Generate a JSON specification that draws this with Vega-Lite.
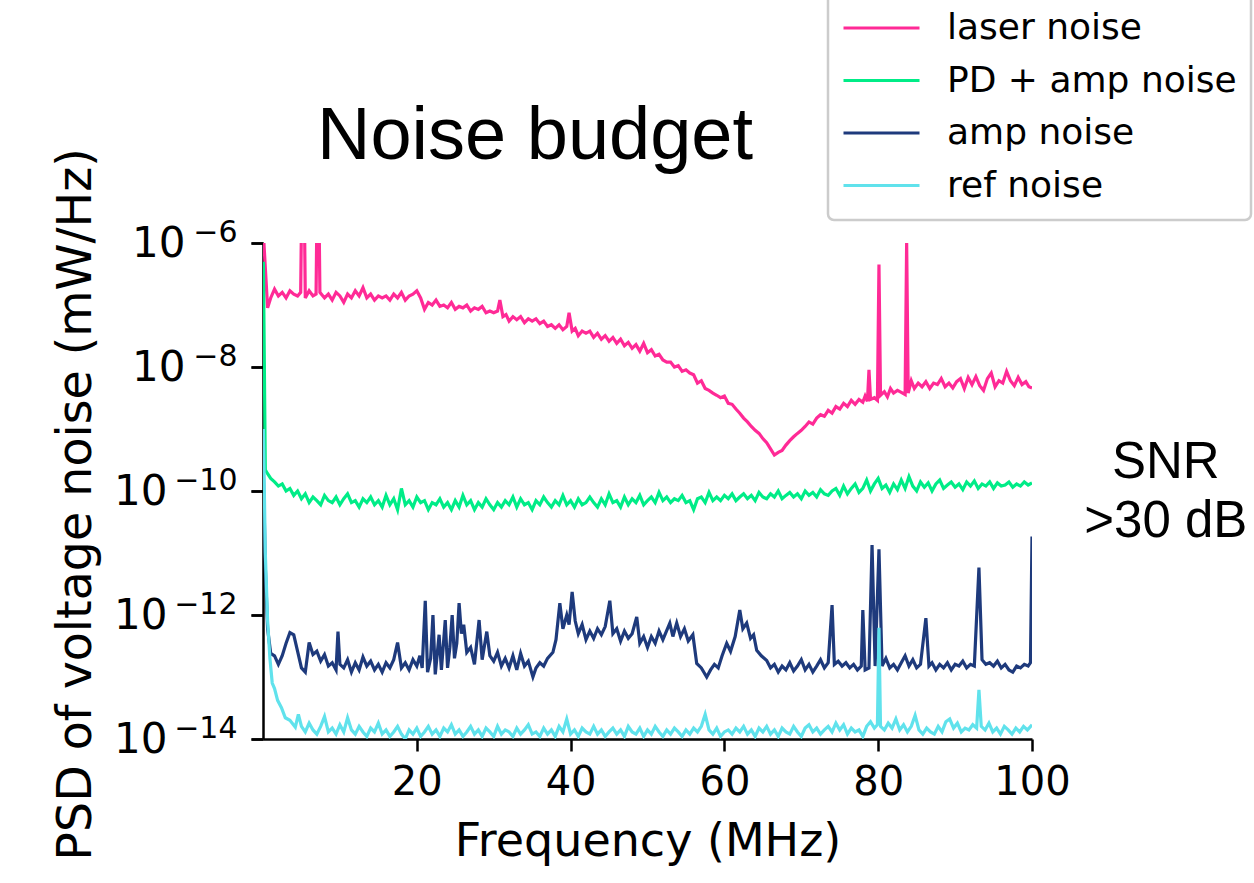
{
"$schema":"https://vega.github.io/schema/vega-lite/v6.json",
"width":769,"height":496,
"autosize":"none",
"padding":{"left":263,"top":243,"right":222,"bottom":144},
"background":"white",
"config":{"view":{"stroke":null},"font":"DejaVu Sans"},
"title":{"text":"Noise budget","anchor":"start","frame":"group","dx":54,"offset":-240,"baseline":"alphabetic","fontSize":74,"font":"Liberation Sans","fontWeight":"normal","color":"black"},
"resolve":{"axis":{"y":"independent"}},
"datasets":{
"laser":[{"f":0.1,"v":1.1e-6},{"f":0.3,"v":4e-7},{"f":0.6,"v":9e-8},{"f":1.0,"v":1.3e-7},{"f":1.5,"v":1.8e-7},{"f":2.0,"v":1.4e-7},{"f":2.5,"v":1.6e-7},{"f":3.0,"v":1.3e-7},{"f":3.5,"v":1.7e-7},{"f":4.0,"v":1.5e-7},{"f":4.5,"v":1.4e-7},{"f":4.9,"v":1.6e-7},{"f":5.0,"v":2e-6},{"f":5.4,"v":2e-6},{"f":5.5,"v":1.3e-7},{"f":6.0,"v":1.7e-7},{"f":6.5,"v":1.4e-7},{"f":6.9,"v":1.5e-7},{"f":7.0,"v":2e-6},{"f":7.3,"v":2e-6},{"f":7.4,"v":1.6e-7},{"f":8.0,"v":1.3e-7},{"f":8.5,"v":1.5e-7},{"f":9.0,"v":1.2e-7},{"f":9.5,"v":1.6e-7},{"f":10.0,"v":1.4e-7},{"f":10.5,"v":1.1e-7},{"f":11.0,"v":1.5e-7},{"f":11.5,"v":1.3e-7},{"f":12.0,"v":1.7e-7},{"f":12.5,"v":1.4e-7},{"f":13.0,"v":1.9e-7},{"f":13.5,"v":1.3e-7},{"f":14.0,"v":1.5e-7},{"f":14.5,"v":1.2e-7},{"f":15.0,"v":1.4e-7},{"f":15.5,"v":1.3e-7},{"f":16.0,"v":1.4e-7},{"f":16.5,"v":1.2e-7},{"f":17.0,"v":1.5e-7},{"f":17.5,"v":1.3e-7},{"f":18.0,"v":1.6e-7},{"f":18.5,"v":1.2e-7},{"f":19.0,"v":1.4e-7},{"f":19.5,"v":1.5e-7},{"f":20.0,"v":1.7e-7},{"f":20.5,"v":1.3e-7},{"f":21.0,"v":8.5e-8},{"f":21.5,"v":1.1e-7},{"f":22.0,"v":1.0e-7},{"f":22.5,"v":1.2e-7},{"f":23.0,"v":9.5e-8},{"f":23.5,"v":1.0e-7},{"f":24.0,"v":9e-8},{"f":24.5,"v":1.1e-7},{"f":25.0,"v":8.5e-8},{"f":25.5,"v":9.5e-8},{"f":26.0,"v":9e-8},{"f":26.5,"v":1.0e-7},{"f":27.0,"v":8e-8},{"f":27.5,"v":9e-8},{"f":28.0,"v":8.5e-8},{"f":28.5,"v":9.5e-8},{"f":29.0,"v":7.5e-8},{"f":29.5,"v":8e-8},{"f":30.0,"v":7.5e-8},{"f":30.5,"v":8e-8},{"f":30.8,"v":1.2e-7},{"f":31.2,"v":6.5e-8},{"f":31.6,"v":7e-8},{"f":32.0,"v":5.5e-8},{"f":32.5,"v":6.5e-8},{"f":33.0,"v":5.8e-8},{"f":33.5,"v":6.5e-8},{"f":34.0,"v":5.2e-8},{"f":34.5,"v":6e-8},{"f":35.0,"v":5.5e-8},{"f":35.5,"v":6e-8},{"f":36.0,"v":5e-8},{"f":36.5,"v":5.5e-8},{"f":37.0,"v":4.5e-8},{"f":37.5,"v":4.8e-8},{"f":38.0,"v":4.2e-8},{"f":38.5,"v":4.8e-8},{"f":39.0,"v":4e-8},{"f":39.5,"v":4.5e-8},{"f":39.8,"v":7.5e-8},{"f":40.2,"v":3.8e-8},{"f":40.6,"v":4.2e-8},{"f":41.0,"v":3.2e-8},{"f":41.5,"v":3.8e-8},{"f":42.0,"v":3.5e-8},{"f":42.5,"v":3.8e-8},{"f":43.0,"v":3e-8},{"f":43.5,"v":3.5e-8},{"f":44.0,"v":2.8e-8},{"f":44.5,"v":3.2e-8},{"f":45.0,"v":2.6e-8},{"f":45.5,"v":3e-8},{"f":46.0,"v":2.4e-8},{"f":46.5,"v":2.8e-8},{"f":47.0,"v":2.2e-8},{"f":47.5,"v":2.5e-8},{"f":48.0,"v":2.0e-8},{"f":48.5,"v":2.3e-8},{"f":49.0,"v":1.8e-8},{"f":49.5,"v":2.4e-8},{"f":50.0,"v":1.7e-8},{"f":50.5,"v":1.9e-8},{"f":51.0,"v":1.5e-8},{"f":51.5,"v":1.6e-8},{"f":52.0,"v":1.3e-8},{"f":52.5,"v":1.2e-8},{"f":53.0,"v":1.2e-8},{"f":53.5,"v":1.0e-8},{"f":54.0,"v":1.05e-8},{"f":54.5,"v":8.5e-9},{"f":55.0,"v":9e-9},{"f":55.5,"v":8e-9},{"f":56.0,"v":7.5e-9},{"f":56.5,"v":5.5e-9},{"f":57.0,"v":6e-9},{"f":57.5,"v":4.5e-9},{"f":58.0,"v":4.2e-9},{"f":58.5,"v":3.8e-9},{"f":59.0,"v":3.5e-9},{"f":59.5,"v":3.2e-9},{"f":60.0,"v":3.4e-9},{"f":60.5,"v":2.6e-9},{"f":61.0,"v":2.5e-9},{"f":61.5,"v":2.1e-9},{"f":62.0,"v":1.8e-9},{"f":62.5,"v":1.5e-9},{"f":63.0,"v":1.3e-9},{"f":63.5,"v":1.1e-9},{"f":64.0,"v":9.5e-10},{"f":64.5,"v":8.5e-10},{"f":65.0,"v":7e-10},{"f":65.5,"v":6e-10},{"f":66.0,"v":4.8e-10},{"f":66.5,"v":3.8e-10},{"f":67.0,"v":4.2e-10},{"f":67.5,"v":4.5e-10},{"f":68.0,"v":5.5e-10},{"f":68.5,"v":6.5e-10},{"f":69.0,"v":7.5e-10},{"f":69.5,"v":8.5e-10},{"f":70.0,"v":9.5e-10},{"f":70.5,"v":1.1e-9},{"f":71.0,"v":1.3e-9},{"f":71.5,"v":1.2e-9},{"f":72.0,"v":1.5e-9},{"f":72.5,"v":1.7e-9},{"f":73.0,"v":1.6e-9},{"f":73.5,"v":2.0e-9},{"f":74.0,"v":1.8e-9},{"f":74.5,"v":2.3e-9},{"f":75.0,"v":2.1e-9},{"f":75.5,"v":2.6e-9},{"f":76.0,"v":2.3e-9},{"f":76.5,"v":2.9e-9},{"f":77.0,"v":2.5e-9},{"f":77.5,"v":3.0e-9},{"f":78.0,"v":2.7e-9},{"f":78.3,"v":3.4e-9},{"f":78.6,"v":2.8e-9},{"f":78.8,"v":9e-9},{"f":79.0,"v":3e-9},{"f":79.5,"v":3.2e-9},{"f":79.9,"v":2.9e-9},{"f":80.1,"v":4.5e-7},{"f":80.3,"v":3.5e-9},{"f":80.8,"v":4e-9},{"f":81.2,"v":3.3e-9},{"f":81.6,"v":4.5e-9},{"f":82.0,"v":3.8e-9},{"f":82.5,"v":4.2e-9},{"f":83.0,"v":3.9e-9},{"f":83.5,"v":3.6e-9},{"f":83.7,"v":1e-6},{"f":83.9,"v":3.8e-9},{"f":84.3,"v":6e-9},{"f":84.7,"v":4.5e-9},{"f":85.2,"v":5.5e-9},{"f":85.7,"v":4.8e-9},{"f":86.2,"v":5.8e-9},{"f":86.7,"v":4.5e-9},{"f":87.2,"v":5.5e-9},{"f":87.7,"v":5.2e-9},{"f":88.2,"v":6.5e-9},{"f":88.7,"v":4.8e-9},{"f":89.2,"v":5.5e-9},{"f":89.7,"v":4.6e-9},{"f":90.2,"v":5.8e-9},{"f":90.7,"v":6.5e-9},{"f":91.2,"v":4.5e-9},{"f":91.7,"v":6.8e-9},{"f":92.2,"v":5.2e-9},{"f":92.7,"v":7e-9},{"f":93.2,"v":5e-9},{"f":93.7,"v":4.2e-9},{"f":94.2,"v":6.5e-9},{"f":94.7,"v":8e-9},{"f":95.2,"v":4.8e-9},{"f":95.7,"v":6e-9},{"f":96.2,"v":5.5e-9},{"f":96.7,"v":8.5e-9},{"f":97.2,"v":6e-9},{"f":97.7,"v":5e-9},{"f":98.2,"v":6.8e-9},{"f":98.7,"v":5.2e-9},{"f":99.2,"v":5.8e-9},{"f":99.6,"v":4.8e-9},{"f":100,"v":4.6e-9}],
"pd":[{"f":0.05,"v":5e-7},{"f":0.3,"v":2.2e-10},{"f":0.6,"v":1.9e-10},{"f":1.0,"v":1.6e-10},{"f":1.5,"v":1.4e-10},{"f":2.0,"v":1.2e-10},{"f":2.5,"v":1.3e-10},{"f":3.0,"v":1.0e-10},{"f":3.5,"v":1.1e-10},{"f":4.0,"v":8.5e-11},{"f":4.5,"v":1.0e-10},{"f":5.0,"v":7.5e-11},{"f":5.5,"v":9e-11},{"f":6.0,"v":6.5e-11},{"f":6.5,"v":8e-11},{"f":7.0,"v":7e-11},{"f":7.5,"v":6e-11},{"f":8.0,"v":8.5e-11},{"f":8.5,"v":7e-11},{"f":9.0,"v":6.5e-11},{"f":9.5,"v":8e-11},{"f":10.0,"v":6e-11},{"f":10.5,"v":7.5e-11},{"f":11.0,"v":9e-11},{"f":11.5,"v":6.5e-11},{"f":12.0,"v":7e-11},{"f":12.5,"v":5.5e-11},{"f":13.0,"v":7.5e-11},{"f":13.5,"v":6.5e-11},{"f":14.0,"v":8e-11},{"f":14.5,"v":6e-11},{"f":15.0,"v":7e-11},{"f":15.5,"v":5.5e-11},{"f":16.0,"v":8.5e-11},{"f":16.5,"v":6e-11},{"f":17.0,"v":7.5e-11},{"f":17.5,"v":5e-11},{"f":18.0,"v":1.1e-10},{"f":18.5,"v":6e-11},{"f":19.0,"v":7e-11},{"f":19.5,"v":5.5e-11},{"f":20.0,"v":8e-11},{"f":20.5,"v":6.5e-11},{"f":21.0,"v":7e-11},{"f":21.5,"v":5e-11},{"f":22.0,"v":6.5e-11},{"f":22.5,"v":6e-11},{"f":23.0,"v":7.5e-11},{"f":23.5,"v":5.5e-11},{"f":24.0,"v":6.5e-11},{"f":24.5,"v":5e-11},{"f":25.0,"v":7e-11},{"f":25.5,"v":5.5e-11},{"f":26.0,"v":8.5e-11},{"f":26.5,"v":6e-11},{"f":27.0,"v":7e-11},{"f":27.5,"v":5e-11},{"f":28.0,"v":6.5e-11},{"f":28.5,"v":5.5e-11},{"f":29.0,"v":7.5e-11},{"f":29.5,"v":6e-11},{"f":30.0,"v":5e-11},{"f":30.5,"v":6.5e-11},{"f":31.0,"v":5.5e-11},{"f":31.5,"v":7e-11},{"f":32.0,"v":6e-11},{"f":32.5,"v":8e-11},{"f":33.0,"v":5.5e-11},{"f":33.5,"v":7.5e-11},{"f":34.0,"v":6e-11},{"f":34.5,"v":6.5e-11},{"f":35.0,"v":5e-11},{"f":35.5,"v":7e-11},{"f":36.0,"v":6e-11},{"f":36.5,"v":8e-11},{"f":37.0,"v":6.5e-11},{"f":37.5,"v":5.5e-11},{"f":38.0,"v":7e-11},{"f":38.5,"v":6e-11},{"f":39.0,"v":8.5e-11},{"f":39.5,"v":6e-11},{"f":40.0,"v":7e-11},{"f":40.5,"v":5.5e-11},{"f":41.0,"v":7.5e-11},{"f":41.5,"v":6e-11},{"f":42.0,"v":6.5e-11},{"f":42.5,"v":8e-11},{"f":43.0,"v":6.5e-11},{"f":43.5,"v":5.5e-11},{"f":44.0,"v":7.5e-11},{"f":44.5,"v":6e-11},{"f":45.0,"v":9e-11},{"f":45.5,"v":6.5e-11},{"f":46.0,"v":7e-11},{"f":46.5,"v":5.5e-11},{"f":47.0,"v":8e-11},{"f":47.5,"v":6e-11},{"f":48.0,"v":7.5e-11},{"f":48.5,"v":6.5e-11},{"f":49.0,"v":8.5e-11},{"f":49.5,"v":6e-11},{"f":50.0,"v":7e-11},{"f":50.5,"v":8e-11},{"f":51.0,"v":6.5e-11},{"f":51.5,"v":9.5e-11},{"f":52.0,"v":7e-11},{"f":52.5,"v":8e-11},{"f":53.0,"v":6.5e-11},{"f":53.5,"v":7.5e-11},{"f":54.0,"v":7e-11},{"f":54.5,"v":8.5e-11},{"f":55.0,"v":6.5e-11},{"f":55.5,"v":7e-11},{"f":56.0,"v":5e-11},{"f":56.5,"v":7.5e-11},{"f":57.0,"v":8e-11},{"f":57.5,"v":6.5e-11},{"f":58.0,"v":9.5e-11},{"f":58.5,"v":7e-11},{"f":59.0,"v":8e-11},{"f":59.5,"v":7e-11},{"f":60.0,"v":8.5e-11},{"f":60.5,"v":7.5e-11},{"f":61.0,"v":9e-11},{"f":61.5,"v":7e-11},{"f":62.0,"v":8e-11},{"f":62.5,"v":9e-11},{"f":63.0,"v":7.5e-11},{"f":63.5,"v":8.5e-11},{"f":64.0,"v":7e-11},{"f":64.5,"v":9.5e-11},{"f":65.0,"v":8e-11},{"f":65.5,"v":7.5e-11},{"f":66.0,"v":9e-11},{"f":66.5,"v":8e-11},{"f":67.0,"v":1.0e-10},{"f":67.5,"v":7.5e-11},{"f":68.0,"v":8.5e-11},{"f":68.5,"v":9.5e-11},{"f":69.0,"v":8e-11},{"f":69.5,"v":9e-11},{"f":70.0,"v":7.5e-11},{"f":70.5,"v":1.0e-10},{"f":71.0,"v":8.5e-11},{"f":71.5,"v":9.5e-11},{"f":72.0,"v":8e-11},{"f":72.5,"v":1.05e-10},{"f":73.0,"v":9e-11},{"f":73.5,"v":8.5e-11},{"f":74.0,"v":1.0e-10},{"f":74.5,"v":1.1e-10},{"f":75.0,"v":8.5e-11},{"f":75.5,"v":1.2e-10},{"f":76.0,"v":9e-11},{"f":76.5,"v":1.1e-10},{"f":77.0,"v":1.3e-10},{"f":77.5,"v":9.5e-11},{"f":78.0,"v":1.1e-10},{"f":78.5,"v":1.5e-10},{"f":79.0,"v":1.0e-10},{"f":79.5,"v":1.3e-10},{"f":80.0,"v":1.6e-10},{"f":80.5,"v":1.1e-10},{"f":81.0,"v":1.25e-10},{"f":81.5,"v":9.5e-11},{"f":82.0,"v":1.3e-10},{"f":82.5,"v":1.05e-10},{"f":83.0,"v":1.5e-10},{"f":83.5,"v":1.1e-10},{"f":84.0,"v":1.7e-10},{"f":84.5,"v":1.2e-10},{"f":85.0,"v":1.0e-10},{"f":85.5,"v":1.4e-10},{"f":86.0,"v":1.15e-10},{"f":86.5,"v":1.35e-10},{"f":87.0,"v":1.0e-10},{"f":87.5,"v":1.3e-10},{"f":88.0,"v":1.5e-10},{"f":88.5,"v":1.1e-10},{"f":89.0,"v":1.25e-10},{"f":89.5,"v":1.4e-10},{"f":90.0,"v":1.15e-10},{"f":90.5,"v":1.3e-10},{"f":91.0,"v":1.05e-10},{"f":91.5,"v":1.4e-10},{"f":92.0,"v":1.2e-10},{"f":92.5,"v":1.45e-10},{"f":93.0,"v":1.1e-10},{"f":93.5,"v":1.3e-10},{"f":94.0,"v":1.2e-10},{"f":94.5,"v":1.4e-10},{"f":95.0,"v":1.1e-10},{"f":95.5,"v":1.35e-10},{"f":96.0,"v":1.2e-10},{"f":96.5,"v":1.25e-10},{"f":97.0,"v":1.4e-10},{"f":97.5,"v":1.15e-10},{"f":98.0,"v":1.3e-10},{"f":98.5,"v":1.2e-10},{"f":99.0,"v":1.4e-10},{"f":99.5,"v":1.25e-10},{"f":100,"v":1.35e-10}],
"amp":[{"f":0.05,"v":2e-10},{"f":0.3,"v":6e-12},{"f":0.6,"v":6e-13},{"f":1.0,"v":2.4e-13},{"f":1.5,"v":2.2e-13},{"f":2.0,"v":1.6e-13},{"f":2.5,"v":2.2e-13},{"f":3.0,"v":3.5e-13},{"f":3.5,"v":5.2e-13},{"f":4.0,"v":4.8e-13},{"f":4.5,"v":2.6e-13},{"f":5.0,"v":1.4e-13},{"f":5.5,"v":1.2e-13},{"f":6.0,"v":3.6e-13},{"f":6.5,"v":2.3e-13},{"f":7.0,"v":2.6e-13},{"f":7.5,"v":1.8e-13},{"f":8.0,"v":2.3e-13},{"f":8.5,"v":1.5e-13},{"f":9.0,"v":1.7e-13},{"f":9.5,"v":1.3e-13},{"f":9.75,"v":5.4e-13},{"f":10.0,"v":1.6e-13},{"f":10.5,"v":1.4e-13},{"f":11.0,"v":1.9e-13},{"f":11.5,"v":1.2e-13},{"f":12.0,"v":1.7e-13},{"f":12.5,"v":1.3e-13},{"f":13.0,"v":2.1e-13},{"f":13.5,"v":1.5e-13},{"f":14.0,"v":1.8e-13},{"f":14.5,"v":1.3e-13},{"f":15.0,"v":1.6e-13},{"f":15.5,"v":1.2e-13},{"f":16.0,"v":1.7e-13},{"f":16.5,"v":1.4e-13},{"f":17.0,"v":1.9e-13},{"f":17.5,"v":3.6e-13},{"f":18.0,"v":1.4e-13},{"f":18.5,"v":1.7e-13},{"f":19.0,"v":1.3e-13},{"f":19.5,"v":1.9e-13},{"f":20.0,"v":1.5e-13},{"f":20.4,"v":2.2e-13},{"f":20.7,"v":1.4e-13},{"f":21.1,"v":1.7e-12},{"f":21.4,"v":1.2e-13},{"f":21.8,"v":2e-13},{"f":22.1,"v":1e-12},{"f":22.4,"v":1.1e-13},{"f":22.9,"v":4.8e-13},{"f":23.2,"v":1.3e-13},{"f":23.7,"v":8.3e-13},{"f":24.0,"v":1.4e-13},{"f":24.3,"v":3e-13},{"f":24.6,"v":1e-12},{"f":24.9,"v":2e-13},{"f":25.2,"v":3.5e-13},{"f":25.5,"v":1.55e-12},{"f":25.8,"v":5e-13},{"f":26.1,"v":7e-13},{"f":26.5,"v":2.5e-13},{"f":27.0,"v":3e-13},{"f":27.5,"v":1.6e-13},{"f":28.1,"v":8.3e-13},{"f":28.5,"v":1.9e-13},{"f":29.1,"v":5.4e-13},{"f":29.5,"v":2.2e-13},{"f":30.0,"v":1.8e-13},{"f":30.5,"v":2.5e-13},{"f":31.0,"v":1.5e-13},{"f":31.5,"v":2e-13},{"f":32.0,"v":1.4e-13},{"f":32.5,"v":2.2e-13},{"f":33.0,"v":1.3e-13},{"f":33.5,"v":2.4e-13},{"f":34.0,"v":1.5e-13},{"f":34.5,"v":1.8e-13},{"f":35.1,"v":1e-13},{"f":35.5,"v":1.4e-13},{"f":36.0,"v":1.7e-13},{"f":36.5,"v":1.5e-13},{"f":37.0,"v":2e-13},{"f":37.7,"v":2.5e-13},{"f":38.1,"v":4e-13},{"f":38.6,"v":1.55e-12},{"f":39.0,"v":6e-13},{"f":39.5,"v":1e-12},{"f":39.8,"v":7e-13},{"f":40.2,"v":2.35e-12},{"f":40.6,"v":8e-13},{"f":41.0,"v":5e-13},{"f":41.5,"v":7e-13},{"f":42.0,"v":4e-13},{"f":42.5,"v":5.5e-13},{"f":43.0,"v":4.2e-13},{"f":43.5,"v":6e-13},{"f":44.0,"v":4.8e-13},{"f":44.5,"v":6.5e-13},{"f":45.1,"v":1.7e-12},{"f":45.5,"v":5e-13},{"f":46.0,"v":6e-13},{"f":46.5,"v":3.8e-13},{"f":47.0,"v":5.5e-13},{"f":47.5,"v":4.2e-13},{"f":48.0,"v":5e-13},{"f":48.6,"v":9.3e-13},{"f":49.0,"v":3.5e-13},{"f":49.5,"v":4.5e-13},{"f":50.0,"v":3e-13},{"f":50.5,"v":4.5e-13},{"f":51.0,"v":3.5e-13},{"f":51.5,"v":5.5e-13},{"f":52.0,"v":4e-13},{"f":52.9,"v":7.4e-13},{"f":53.3,"v":4.5e-13},{"f":53.8,"v":7.4e-13},{"f":54.3,"v":4.5e-13},{"f":54.8,"v":6e-13},{"f":55.3,"v":3.8e-13},{"f":55.9,"v":4.8e-13},{"f":56.4,"v":1.65e-13},{"f":57.0,"v":1.4e-13},{"f":57.7,"v":1e-13},{"f":58.2,"v":1.3e-13},{"f":58.7,"v":1.6e-13},{"f":59.2,"v":1.4e-13},{"f":59.7,"v":2.2e-13},{"f":60.3,"v":3.5e-13},{"f":60.8,"v":2.6e-13},{"f":61.4,"v":4.5e-13},{"f":62.0,"v":1.2e-12},{"f":62.4,"v":6e-13},{"f":62.9,"v":7.4e-13},{"f":63.4,"v":4.2e-13},{"f":63.8,"v":4.8e-13},{"f":64.2,"v":2.7e-13},{"f":64.8,"v":2.2e-13},{"f":65.5,"v":1.85e-13},{"f":66.0,"v":1.4e-13},{"f":66.5,"v":1.6e-13},{"f":67.0,"v":1.2e-13},{"f":67.5,"v":1.5e-13},{"f":68.0,"v":1.3e-13},{"f":68.5,"v":1.7e-13},{"f":69.0,"v":1.25e-13},{"f":69.5,"v":1.5e-13},{"f":70.0,"v":1.9e-13},{"f":70.5,"v":1.3e-13},{"f":71.0,"v":1.6e-13},{"f":71.5,"v":1.2e-13},{"f":72.0,"v":1.5e-13},{"f":72.5,"v":1.9e-13},{"f":73.0,"v":1.4e-13},{"f":73.5,"v":1.7e-13},{"f":74.0,"v":1.45e-12},{"f":74.3,"v":1.6e-13},{"f":74.8,"v":1.8e-13},{"f":75.3,"v":1.5e-13},{"f":75.8,"v":1.7e-13},{"f":76.3,"v":1.4e-13},{"f":76.8,"v":1.6e-13},{"f":77.3,"v":1.3e-13},{"f":77.8,"v":1.5e-13},{"f":78.0,"v":1.2e-12},{"f":78.3,"v":1.3e-13},{"f":78.8,"v":1.4e-13},{"f":79.2,"v":1.35e-11},{"f":79.6,"v":1.5e-13},{"f":80.1,"v":1.15e-11},{"f":80.5,"v":1.5e-13},{"f":81.0,"v":2e-13},{"f":81.5,"v":1.4e-13},{"f":82.0,"v":1.6e-13},{"f":82.5,"v":1.3e-13},{"f":83.0,"v":1.7e-13},{"f":83.5,"v":2.2e-13},{"f":84.0,"v":1.5e-13},{"f":84.5,"v":1.9e-13},{"f":85.0,"v":1.4e-13},{"f":85.5,"v":1.6e-13},{"f":86.2,"v":8.9e-13},{"f":86.6,"v":1.5e-13},{"f":87.0,"v":1.7e-13},{"f":87.5,"v":1.3e-13},{"f":88.0,"v":1.6e-13},{"f":88.5,"v":1.4e-13},{"f":89.0,"v":1.7e-13},{"f":89.5,"v":1.3e-13},{"f":90.0,"v":1.6e-13},{"f":90.5,"v":1.5e-13},{"f":91.0,"v":1.8e-13},{"f":91.5,"v":1.4e-13},{"f":92.0,"v":1.6e-13},{"f":92.5,"v":1.5e-13},{"f":93.1,"v":5.8e-12},{"f":93.5,"v":1.9e-13},{"f":94.0,"v":1.6e-13},{"f":94.5,"v":1.7e-13},{"f":95.0,"v":1.5e-13},{"f":95.5,"v":1.8e-13},{"f":96.0,"v":1.4e-13},{"f":96.5,"v":1.6e-13},{"f":97.0,"v":1.3e-13},{"f":97.5,"v":1.2e-13},{"f":98.0,"v":1.5e-13},{"f":98.5,"v":1.4e-13},{"f":99.0,"v":1.6e-13},{"f":99.5,"v":1.5e-13},{"f":99.8,"v":1.7e-13},{"f":100,"v":1.85e-11}],
"ref":[{"f":0.05,"v":1e-9},{"f":0.3,"v":1e-11},{"f":0.6,"v":8e-13},{"f":0.9,"v":2e-13},{"f":1.2,"v":8e-14},{"f":1.5,"v":6.5e-14},{"f":1.9,"v":4.2e-14},{"f":2.4,"v":3.2e-14},{"f":2.9,"v":2.2e-14},{"f":3.5,"v":2e-14},{"f":4.2,"v":1.55e-14},{"f":4.6,"v":2.5e-14},{"f":5.0,"v":1.6e-14},{"f":5.5,"v":1.3e-14},{"f":6.0,"v":1.8e-14},{"f":6.5,"v":1.4e-14},{"f":7.0,"v":1.2e-14},{"f":7.5,"v":1.6e-14},{"f":8.0,"v":2.3e-14},{"f":8.5,"v":1.3e-14},{"f":9.0,"v":1.5e-14},{"f":9.5,"v":1.2e-14},{"f":10.0,"v":1.7e-14},{"f":10.5,"v":1.3e-14},{"f":11.0,"v":2.2e-14},{"f":11.5,"v":1.4e-14},{"f":12.0,"v":1.2e-14},{"f":12.5,"v":1.6e-14},{"f":13.0,"v":1.3e-14},{"f":13.5,"v":1.1e-14},{"f":14.0,"v":1.5e-14},{"f":14.5,"v":1.3e-14},{"f":15.0,"v":1.8e-14},{"f":15.5,"v":1.2e-14},{"f":16.0,"v":1.4e-14},{"f":16.5,"v":1.1e-14},{"f":17.0,"v":1.3e-14},{"f":17.5,"v":1.6e-14},{"f":18.0,"v":1.2e-14},{"f":18.5,"v":1.0e-14},{"f":19.0,"v":1.4e-14},{"f":19.5,"v":1.2e-14},{"f":20.0,"v":1.5e-14},{"f":20.5,"v":1.1e-14},{"f":21.0,"v":1.3e-14},{"f":21.5,"v":1.6e-14},{"f":22.0,"v":1.2e-14},{"f":22.5,"v":1.4e-14},{"f":23.0,"v":1.1e-14},{"f":23.5,"v":1.5e-14},{"f":24.0,"v":1.3e-14},{"f":24.5,"v":1.7e-14},{"f":25.0,"v":1.2e-14},{"f":25.5,"v":1.4e-14},{"f":26.0,"v":1.1e-14},{"f":26.5,"v":1.3e-14},{"f":27.0,"v":1.6e-14},{"f":27.5,"v":1.2e-14},{"f":28.0,"v":1.4e-14},{"f":28.5,"v":1.1e-14},{"f":29.0,"v":1.5e-14},{"f":29.5,"v":1.3e-14},{"f":30.0,"v":1.1e-14},{"f":30.5,"v":1.6e-14},{"f":31.0,"v":1.2e-14},{"f":31.5,"v":1.4e-14},{"f":32.0,"v":1.3e-14},{"f":32.5,"v":1.1e-14},{"f":33.0,"v":1.5e-14},{"f":33.5,"v":1.2e-14},{"f":34.0,"v":1.4e-14},{"f":34.5,"v":1.7e-14},{"f":35.0,"v":1.2e-14},{"f":35.5,"v":1.3e-14},{"f":36.0,"v":1.1e-14},{"f":36.5,"v":1.5e-14},{"f":37.0,"v":1.2e-14},{"f":37.5,"v":1.4e-14},{"f":38.0,"v":1.1e-14},{"f":38.5,"v":1.6e-14},{"f":39.0,"v":1.3e-14},{"f":39.5,"v":2.1e-14},{"f":40.0,"v":1.2e-14},{"f":40.5,"v":1.4e-14},{"f":41.0,"v":1.1e-14},{"f":41.5,"v":1.5e-14},{"f":42.0,"v":1.3e-14},{"f":42.5,"v":1.2e-14},{"f":43.0,"v":1.6e-14},{"f":43.5,"v":1.2e-14},{"f":44.0,"v":1.4e-14},{"f":44.5,"v":1.1e-14},{"f":45.0,"v":1.3e-14},{"f":45.5,"v":1.5e-14},{"f":46.0,"v":1.2e-14},{"f":46.5,"v":1.4e-14},{"f":47.0,"v":1.1e-14},{"f":47.5,"v":1.6e-14},{"f":48.0,"v":1.3e-14},{"f":48.5,"v":1.2e-14},{"f":49.0,"v":1.5e-14},{"f":49.5,"v":1.1e-14},{"f":50.0,"v":1.4e-14},{"f":50.5,"v":1.2e-14},{"f":51.0,"v":1.6e-14},{"f":51.5,"v":1.3e-14},{"f":52.0,"v":1.1e-14},{"f":52.5,"v":1.4e-14},{"f":53.0,"v":1.2e-14},{"f":53.5,"v":1.5e-14},{"f":54.0,"v":1.3e-14},{"f":54.5,"v":1.1e-14},{"f":55.0,"v":1.4e-14},{"f":55.5,"v":1.2e-14},{"f":56.0,"v":1.5e-14},{"f":56.5,"v":1.3e-14},{"f":57.0,"v":1.6e-14},{"f":57.5,"v":2.5e-14},{"f":58.0,"v":1.4e-14},{"f":58.5,"v":1.2e-14},{"f":59.0,"v":1.5e-14},{"f":59.5,"v":1.1e-14},{"f":60.0,"v":1.3e-14},{"f":60.5,"v":1.4e-14},{"f":61.0,"v":1.2e-14},{"f":61.5,"v":1.5e-14},{"f":62.0,"v":1.3e-14},{"f":62.5,"v":1.6e-14},{"f":63.0,"v":1.2e-14},{"f":63.5,"v":1.4e-14},{"f":64.0,"v":1.1e-14},{"f":64.5,"v":1.5e-14},{"f":65.0,"v":1.3e-14},{"f":65.5,"v":1.6e-14},{"f":66.0,"v":1.2e-14},{"f":66.5,"v":1.4e-14},{"f":67.0,"v":1.1e-14},{"f":67.5,"v":1.5e-14},{"f":68.0,"v":1.3e-14},{"f":68.5,"v":1.2e-14},{"f":69.0,"v":1.6e-14},{"f":69.5,"v":1.3e-14},{"f":70.0,"v":1.1e-14},{"f":70.5,"v":1.5e-14},{"f":71.0,"v":1.7e-14},{"f":71.5,"v":1.3e-14},{"f":72.0,"v":1.5e-14},{"f":72.5,"v":1.2e-14},{"f":73.0,"v":1.4e-14},{"f":73.5,"v":1.6e-14},{"f":74.0,"v":1.3e-14},{"f":74.5,"v":1.8e-14},{"f":75.0,"v":1.4e-14},{"f":75.5,"v":1.7e-14},{"f":76.0,"v":1.2e-14},{"f":76.5,"v":1.5e-14},{"f":77.0,"v":1.3e-14},{"f":77.5,"v":1.4e-14},{"f":78.0,"v":1.1e-14},{"f":78.5,"v":1.6e-14},{"f":79.0,"v":1.9e-14},{"f":79.5,"v":1.5e-14},{"f":79.9,"v":1.7e-14},{"f":80.1,"v":6.2e-13},{"f":80.3,"v":1.6e-14},{"f":80.8,"v":1.4e-14},{"f":81.3,"v":1.8e-14},{"f":81.8,"v":1.5e-14},{"f":82.3,"v":2.1e-14},{"f":82.8,"v":1.4e-14},{"f":83.3,"v":1.7e-14},{"f":83.8,"v":1.3e-14},{"f":84.3,"v":1.6e-14},{"f":84.8,"v":2.4e-14},{"f":85.3,"v":1.4e-14},{"f":85.8,"v":1.2e-14},{"f":86.3,"v":1.5e-14},{"f":86.8,"v":1.3e-14},{"f":87.3,"v":1.2e-14},{"f":87.8,"v":1.6e-14},{"f":88.3,"v":1.3e-14},{"f":88.8,"v":1.9e-14},{"f":89.3,"v":2.1e-14},{"f":89.8,"v":1.5e-14},{"f":90.3,"v":1.8e-14},{"f":90.8,"v":1.3e-14},{"f":91.3,"v":1.5e-14},{"f":91.8,"v":1.4e-14},{"f":92.3,"v":1.7e-14},{"f":92.8,"v":1.5e-14},{"f":93.1,"v":6.2e-14},{"f":93.4,"v":1.6e-14},{"f":93.9,"v":1.4e-14},{"f":94.4,"v":1.8e-14},{"f":94.9,"v":1.3e-14},{"f":95.4,"v":1.5e-14},{"f":95.9,"v":1.2e-14},{"f":96.4,"v":1.6e-14},{"f":96.9,"v":1.4e-14},{"f":97.4,"v":1.2e-14},{"f":97.9,"v":1.5e-14},{"f":98.4,"v":1.3e-14},{"f":98.9,"v":1.6e-14},{"f":99.4,"v":1.4e-14},{"f":100,"v":1.7e-14}],
"notes":[{"f":117.4,"v":1.65e-10,"t":"SNR"},{"f":117.4,"v":1.8e-11,"t":">30 dB"}]
},
"encoding":{
"x":{"field":"f","type":"quantitative","scale":{"domain":[0,100],"nice":false,"zero":false},
"axis":{"title":"Frequency (MHz)","values":[20,40,60,80,100],"grid":false,"labelFlush":false,"labelOverlap":false,"labelBound":false,"labelFontSize":40,"titleFontSize":46,"labelFont":"DejaVu Sans","titleFont":"DejaVu Sans","titleFontWeight":"normal","labelColor":"black","titleColor":"black","domainColor":"black","tickColor":"black","domainWidth":2.5,"tickWidth":2.5,"tickSize":12,"labelPadding":11,"titlePadding":17}}
},
"layer":[
{"data":{"name":"laser"},"mark":{"type":"line","strokeWidth":3.2,"clip":true},"encoding":{
"y":{"field":"v","type":"quantitative","scale":{"type":"log","domain":[1e-14,1e-6],"nice":false},
"axis":{"orient":"left","title":"PSD of voltage noise (mW/Hz)","values":[1e-6,1e-8],"labelExpr":"'10'","grid":false,"labelFontSize":42,"titleFontSize":47.5,"titleY":261,"labelFont":"DejaVu Sans","titleFont":"DejaVu Sans","titleFontWeight":"normal","labelColor":"black","titleColor":"black","domainColor":"black","tickColor":"black","domainWidth":2.5,"ticks":true,"tickOpacity":1,"tickWidth":2.5,"tickSize":12,"tickRound":false,"tickOffset":0,"labelPadding":66,"labelFlush":false,"labelOverlap":false,"labelBound":false,"titlePadding":31}},
"color":{"datum":"laser noise","type":"nominal","scale":{"domain":["laser noise","PD + amp noise","amp noise","ref noise"],"range":["#ff2a96","#00ec87","#1e3a7c","#60e2ec"]},
"legend":{"title":null,"orient":"none","legendX":565,"legendY":-249,"symbolType":"stroke","symbolSize":5776,"symbolStrokeWidth":3,"labelFontSize":36,"labelFont":"DejaVu Sans","labelColor":"black","labelOffset":26,"labelLimit":600,"padding":14,"strokeColor":"#cccccc","cornerRadius":6,"fillColor":"white","clipHeight":40,"rowPadding":12.5,"encode":{"legend":{"update":{"strokeWidth":{"value":2.5}}}}}}}},
{"data":{"name":"pd"},"mark":{"type":"line","strokeWidth":3.2,"clip":true},"encoding":{
"y":{"field":"v","type":"quantitative",
"axis":{"orient":"left","title":null,"values":[1e-6,1e-8,1e-10,1e-12,1e-14],"labelExpr":"datum.value > 5e-7 ? '−6' : datum.value > 5e-9 ? '−8' : datum.value > 5e-11 ? '−10' : datum.value > 5e-13 ? '−12' : '−14'","grid":false,"domain":false,"ticks":true,"tickOpacity":1,"tickColor":"black","tickWidth":2.5,"tickSize":12,"tickRound":false,"tickOffset":0,"labelFontSize":30,"labelFont":"DejaVu Sans","labelColor":"black","labelPadding":14,"labelBaseline":"alphabetic","labelOffset":-2,"labelFlush":false,"labelOverlap":false,"labelBound":false}},
"color":{"datum":"PD + amp noise","type":"nominal"}}},
{"data":{"name":"amp"},"mark":{"type":"line","strokeWidth":3.2,"clip":true},"encoding":{
"y":{"field":"v","type":"quantitative",
"axis":{"orient":"left","title":null,"values":[1e-10,1e-12,1e-14],"labelExpr":"'10'","grid":false,"domain":false,"ticks":true,"tickOpacity":1,"tickColor":"black","tickWidth":2.5,"tickSize":12,"tickRound":false,"tickOffset":0,"labelFontSize":42,"labelFont":"DejaVu Sans","labelColor":"black","labelPadding":84,"labelFlush":false,"labelOverlap":false,"labelBound":false}},
"color":{"datum":"amp noise","type":"nominal"}}},
{"data":{"name":"ref"},"mark":{"type":"line","strokeWidth":3.2,"clip":true},"encoding":{"y":{"field":"v","type":"quantitative","axis":null},"color":{"datum":"ref noise","type":"nominal"}}},
{"data":{"name":"notes"},"mark":{"type":"text","font":"Liberation Sans","fontSize":51,"align":"center","baseline":"alphabetic","color":"black","clip":false},"encoding":{"y":{"field":"v","type":"quantitative","axis":null},"text":{"field":"t","type":"nominal"}}}
]
}
